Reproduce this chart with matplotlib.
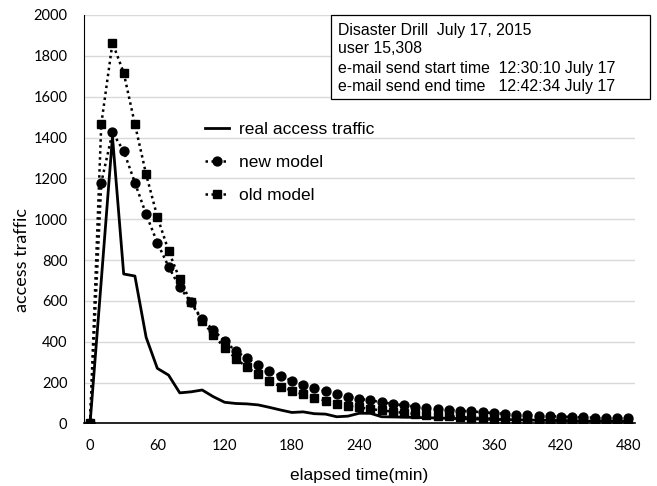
import matplotlib
matplotlib.use("Agg")
import matplotlib.pyplot as plt
from matplotlib.patches import Rectangle

minutes = list(range(0, 481, 10))
real_traffic = [0, 700, 1404, 732, 722, 422, 270, 237, 150, 155, 164, 131, 104, 98, 96, 91,
                79, 66, 54, 57, 48, 46, 33, 36, 50, 50, 33, 32, 31, 30, 28, 27, 25, 24, 22,
                21, 20, 19, 18, 17, 16, 15, 14, 13, 12, 12, 11, 10, 10]
new_model = [0, 1179, 1425, 1334, 1179, 1024, 885, 768, 667, 593, 510, 458, 403, 355, 319,
             286, 258, 232, 210, 190, 175, 158, 144, 132, 122, 113, 104, 96, 89, 83, 77, 72,
             67, 63, 59, 55, 51, 48, 44, 41, 39, 36, 34, 32, 30, 29, 27, 26, 25]
old_model = [0, 1465, 1864, 1717, 1465, 1220, 1012, 846, 706, 593, 503, 432, 371, 318, 275,
             240, 209, 180, 161, 142, 126, 111, 97, 86, 79, 71, 64, 58, 52, 47, 43, 39, 35,
             32, 29, 26, 24, 22, 20, 18, 17, 15, 14, 13, 12, 11, 10, 10, 9]
x_ticks = [0, 60, 120, 180, 240, 300, 360, 420, 480]
y_ticks = [0, 200, 400, 600, 800, 1000, 1200, 1400, 1600, 1800, 2000]
series_labels = ["real access traffic", "new model", "old model"]
info_lines = ["Disaster Drill  July 17, 2015",
              "user 15,308",
              "e-mail send start time  12:30:10 July 17",
              "e-mail send end time   12:42:34 July 17"]

W, H = 657, 486
fig = plt.figure(figsize=(W / 100, H / 100), dpi=100)
ax = fig.add_axes([84 / W, 1 - 423.5 / H, (635 - 84) / W, (423.5 - 15) / H])

arial = "Liberation Sans"
calib = "Lato"

dot = (0, (1, 1.4))
ax.plot(minutes, real_traffic, color="black", lw=2.0, label=series_labels[0], zorder=3)
ax.plot(minutes, new_model, color="black", lw=1.8, ls=dot, marker="o", ms=6.4,
        label=series_labels[1], zorder=4)
ax.plot(minutes, old_model, color="black", lw=1.8, ls=dot, marker="s", ms=6.0,
        label=series_labels[2], zorder=5)

ax.set_xlim(-5.4, 486)
ax.set_ylim(0, 2000)
ax.set_xticks(x_ticks)
ax.set_yticks(y_ticks)
ax.tick_params(length=0, labelsize=10.5)
ax.tick_params(axis="y", pad=12)
ax.tick_params(axis="x", pad=11)
for lab in ax.get_xticklabels() + ax.get_yticklabels():
    lab.set_fontfamily(calib)

ax.grid(axis="y", color="#d9d9d9", lw=1.0)
ax.set_axisbelow(True)
for s in ["top", "right"]:
    ax.spines[s].set_visible(False)
ax.spines["left"].set_color("black")
ax.spines["left"].set_linewidth(0.8)
ax.spines["bottom"].set_color("black")
ax.spines["bottom"].set_linewidth(1.2)

ax.set_xlabel("elapsed time(min)", fontsize=12.5, family=arial)
ax.xaxis.set_label_coords(0.5, -0.108)
ax.set_ylabel("access traffic", fontsize=13, family=calib)
ax.yaxis.set_label_coords(-0.098, (423.5 - 260) / 408.5)

leg = ax.legend(loc="upper left", bbox_to_anchor=((205 - 84) / 551, (423.5 - 122) / 408.5),
                frameon=False, prop={"family": arial, "size": 12.5}, handlelength=1.38,
                handletextpad=0.55, labelspacing=1.02, borderaxespad=0, borderpad=0)

fig.add_artist(Rectangle((331 / W, 1 - 99 / H), (650 - 331) / W, 84 / H,
                         transform=fig.transFigure, facecolor="white",
                         edgecolor="black", lw=0.9, zorder=10))
line_y = [30, 48.5, 68.5, 87]
for txt, yy in zip(info_lines, line_y):
    fig.text(338 / W, 1 - yy / H, txt, fontsize=11.4, family=arial, va="center",
             ha="left", zorder=11)

fig.savefig("out.png", dpi=100)
